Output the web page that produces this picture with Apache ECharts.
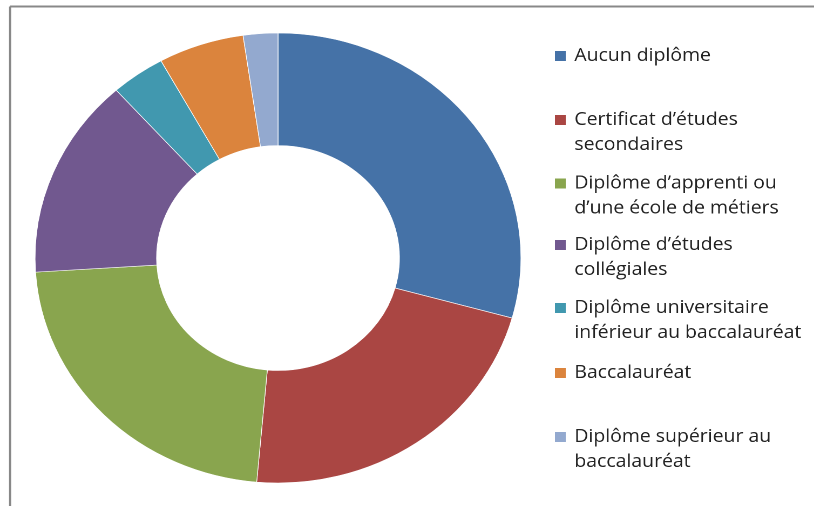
<!DOCTYPE html>
<html><head><meta charset="utf-8">
<script src="https://cdn.jsdelivr.net/npm/echarts@6/dist/echarts.min.js"></script>
<style>
html,body{margin:0;padding:0;background:#fff;overflow:hidden}
#wrap{width:814px;height:506px;overflow:hidden;position:relative;background:#fff}
#c{width:754px;height:506px;transform:scaleX(1.0796);transform-origin:0 0}
</style>
</head><body><div id="wrap"><div id="c"></div></div>
<script>
// ---- data ----
const categories = [
  'Aucun diplôme',
  'Certificat d’études\nsecondaires',
  'Diplôme d’apprenti ou\nd’une école de métiers',
  'Diplôme d’études\ncollégiales',
  'Diplôme universitaire\ninférieur au baccalauréat',
  'Baccalauréat',
  'Diplôme supérieur au\nbaccalauréat'
];
const values = [29.3, 22.1, 22.6, 14.4, 3.6, 5.7, 2.3];

// ---- layout / style ----
const palette = ['#4572A7', '#AA4643', '#89A54E', '#71588F', '#4198AF', '#DB843D', '#93A9CF'];
const legendCenterY = [56, 120, 183.5, 245, 308, 373, 437];
const LH = 25;

const legends = categories.map(function (name, i) {
  const twoLine = name.indexOf('\n') >= 0;
  return {
    orient: 'vertical',
    left: 514,
    top: legendCenterY[i] - 12.5,
    padding: 0,
    itemWidth: 10,
    itemHeight: twoLine ? 10 + LH : 10,
    icon: twoLine ? 'path://M0,0h10v10h-10z M0,35h10' : 'rect',
    itemStyle: {borderWidth: 0},
    selectedMode: false,
    data: [name],
    textStyle: {
      fontFamily: 'Open Sans',
      fontSize: 18,
      color: '#222',
      lineHeight: LH,
      padding: [0, 0, 0, 3]
    }
  };
});

const chart = echarts.init(document.getElementById('c'), null, {devicePixelRatio: 2});
chart.setOption({
  animation: false,
  color: palette,
  legend: legends,
  graphic: [
    {type: 'line', shape: {x1: 9.3, y1: 6.5, x2: 760, y2: 6.5}, style: {stroke: '#888', lineWidth: 2}, silent: true},
    {type: 'line', shape: {x1: 9.3, y1: 6.5, x2: 9.3, y2: 510}, style: {stroke: '#888', lineWidth: 2}, silent: true}
  ],
  series: [{
    type: 'pie',
    center: [257.5, 258],
    radius: [112.5, 225],
    startAngle: 90,
    clockwise: true,
    label: {show: false},
    labelLine: {show: false},
    emphasis: {disabled: true},
    itemStyle: {borderColor: '#fff', borderWidth: 0.6},
    data: categories.map(function (n, i) { return {name: n, value: values[i]}; })
  }]
});
</script>
</body></html>
